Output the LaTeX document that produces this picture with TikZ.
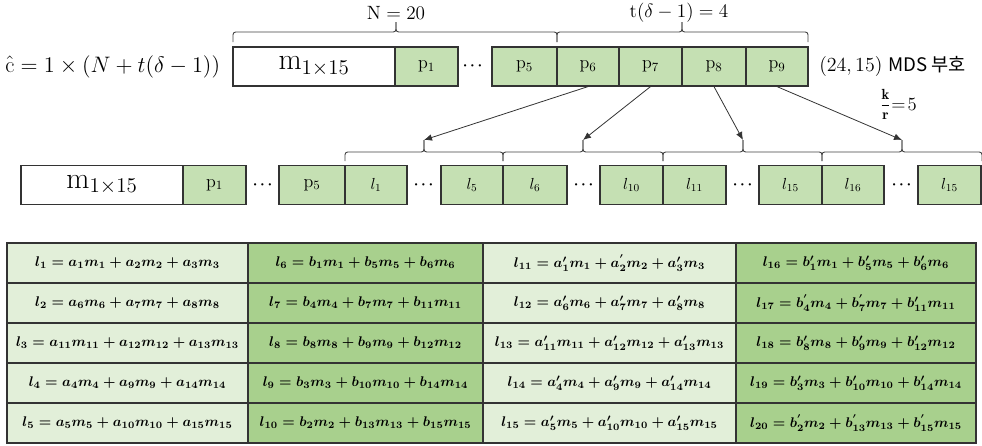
\documentclass[tikz,border=0pt]{standalone}
\usepackage{fix-cm}
\usepackage{amsmath,bm}
\usepackage{fontspec}
\newfontfamily\krfont{Noto Sans CJK KR}
\usetikzlibrary{arrows.meta}

\definecolor{cellLight}{HTML}{E2EFD9}
\definecolor{cellDark}{HTML}{A8D08D}
\definecolor{boxGreen}{HTML}{C5E0B3}
\definecolor{edgeGray}{HTML}{333333}
\definecolor{lineGray}{HTML}{404040}

\tikzset{
  wbox/.style={draw=edgeGray, line width=0.9pt, fill=white, inner sep=0pt,
    minimum height=39*0.75pt, minimum width=#1*0.75pt,
    font=\fontsize{22.5}{25}\selectfont},
  gbox/.style={draw=edgeGray, line width=0.9pt, fill=boxGreen, inner sep=0pt,
    minimum height=39*0.75pt, minimum width=#1*0.75pt,
    font=\fontsize{13.5}{15}\selectfont},
  lbox/.style={gbox=#1, font=\fontsize{12}{14}\selectfont},
  dotsnode/.style={inner sep=0pt, font=\fontsize{11}{12}\selectfont},
  lbl/.style={inner sep=0pt, font=\fontsize{14.4}{17}\selectfont},
  brc/.style={draw=lineGray, line width=0.7pt, rounded corners=2pt},
  arr/.style={draw=black!80, line width=0.6pt, -{Latex[length=6pt,width=5pt]}},
  tcell/.style={draw=edgeGray, line width=1pt, inner sep=0pt,
    minimum height=40*0.75pt, minimum width=#1*0.75pt,
    font=\fontsize{10.5}{12}\selectfont\boldmath},
  lt/.style={tcell=#1, fill=cellLight},
  dk/.style={tcell=#1, fill=cellDark},
}

% T-shaped bracket with rounded joins: name, x1, x2, xtip, yline, yend, ytip
\newcommand\topbracket[7]{%
  \draw[brc] (#2,#6) -- (#2,#5) -- (#4,#5) -- (#4,#7);
  \draw[brc] (#4,#7) -- (#4,#5) -- (#3,#5) -- (#3,#6);
  \coordinate (#1) at (#4,#7);
}

\begin{document}
\begin{tikzpicture}[x=0.75pt,y=-0.75pt]
\useasboundingbox (0,0) rectangle (982,446);

% ---------- codeword row ----------
\node[inner sep=0pt, anchor=west, font=\fontsize{16.8}{19}\selectfont] (cform) at (5,66.5)
  {$\hat{\mathrm{c}} = 1 \times (N + t(\delta - 1))$};

\node[wbox=162] (m) at (314,66.5) {$\mathrm{m}_{1\times 15}$};
\node[gbox=63] (p1) at (426.5,66.5) {$\mathrm{p}_1$};
\node[dotsnode] (d0) at (474,66.5) {$\bm{\cdots}$};
\node[gbox=65] (p5) at (524.5,66.5) {$\mathrm{p}_5$};
\node[gbox=62] (p6) at (588,66.5) {$\mathrm{p}_6$};
\node[gbox=63] (p7) at (650.5,66.5) {$\mathrm{p}_7$};
\node[gbox=64] (p8) at (714,66.5) {$\mathrm{p}_8$};
\node[gbox=62] (p9) at (777,66.5) {$\mathrm{p}_9$};

\node[inner sep=0pt, anchor=west, font=\fontsize{15}{18}\selectfont] (mds) at (819,66.5)
  {$(24, 15)$ {\krfont\fontsize{14}{17}\selectfont MDS 부호}};

% top brackets
\topbracket{tn}{233}{557}{396}{32}{42}{22}
\topbracket{tt}{557}{808}{682}{32}{42}{22}
\node[lbl] (nlab) at (396,13) {$\mathrm{N} = 20$};
\node[lbl] (tlab) at (679,13) {$\mathrm{t}(\delta - 1) = 4$};

\node[inner sep=0pt, font=\fontsize{11}{13}\selectfont] (kfrac) at (885.5,104)
  {$\dfrac{\mathbf{k}}{\mathbf{r}}$};
\node[inner sep=0pt, anchor=west, font=\fontsize{14}{16}\selectfont] (kval) at (891,104)
  {$=\!5$};

% ---------- local parity row ----------
\node[wbox=162] (m2) at (102,185) {$\mathrm{m}_{1\times 15}$};
\node[gbox=63] (q1) at (214.5,185) {$\mathrm{p}_1$};
\node[dotsnode] (d1) at (264,185) {$\bm{\cdots}$};
\node[gbox=66] (q5) at (312,185) {$\mathrm{p}_5$};
\node[lbox=62] (l1) at (376,185) {$l_1$};
\node[dotsnode] (d2) at (425,185) {$\bm{\cdots}$};
\node[lbox=62] (l5) at (472,185) {$l_5$};
\node[lbox=64] (l6) at (535,185) {$l_6$};
\node[dotsnode] (d3) at (585,185) {$\bm{\cdots}$};
\node[lbox=63] (l10) at (631.5,185) {$l_{10}$};
\node[lbox=63] (l11) at (694.5,185) {$l_{11}$};
\node[dotsnode] (d4) at (744,185) {$\bm{\cdots}$};
\node[lbox=63] (l15) at (790.5,185) {$l_{15}$};
\node[lbox=62] (l16) at (853,185) {$l_{16}$};
\node[dotsnode] (d5) at (903,185) {$\bm{\cdots}$};
\node[lbox=63] (l15b) at (949.5,185) {$l_{15}$};

% group brackets
\topbracket{ga}{345}{503}{424}{152}{161}{140}
\topbracket{gb}{503}{663}{583}{152}{161}{140}
\topbracket{gc}{663}{822}{743}{152}{161}{140}
\topbracket{gd}{822}{982}{902}{152}{161}{140}

% arrows
\draw[arr] (p6.south) -- (ga);
\draw[arr] (p7.south) -- (gb);
\draw[arr] (p8.south) -- (gc);
\draw[arr] (p9.south) -- (gd);

% ---------- equation table ----------
\node[lt=241] (a1) at (127.5,263) {$l_1 = a_1m_1 + a_2m_2 + a_3m_3$};
\node[lt=241] (a2) at (127.5,303) {$l_2 = a_6m_6 + a_7m_7 + a_8m_8$};
\node[lt=241] (a3) at (127.5,343) {$l_3 = a_{11}m_{11} + a_{12}m_{12} + a_{13}m_{13}$};
\node[lt=241] (a4) at (127.5,383) {$l_4 = a_4m_4 + a_9m_9 + a_{14}m_{14}$};
\node[lt=241] (a5) at (127.5,423) {$l_5 = a_5m_5 + a_{10}m_{10} + a_{15}m_{15}$};

\node[dk=235] (b1) at (365.5,263) {$l_6 = b_1m_1 + b_5m_5 + b_6m_6$};
\node[dk=235] (b2) at (365.5,303) {$l_7 = b_4m_4 + b_7m_7 + b_{11}m_{11}$};
\node[dk=235] (b3) at (365.5,343) {$l_8 = b_8m_8 + b_9m_9 + b_{12}m_{12}$};
\node[dk=235] (b4) at (365.5,383) {$l_9 = b_3m_3 + b_{10}m_{10} + b_{14}m_{14}$};
\node[dk=235] (b5) at (365.5,423) {$l_{10} = b_2m_2 + b_{13}m_{13} + b_{15}m_{15}$};

\node[lt=253] (c1) at (609.5,263) {$l_{11} = a'_1m_1 + a^{'}_2m_2 + a'_3m_3$};
\node[lt=253] (c2) at (609.5,303) {$l_{12} = a'_6m_6 + a'_7m_7 + a'_8m_8$};
\node[lt=253] (c3) at (609.5,343) {$l_{13} = a'_{11}m_{11} + a'_{12}m_{12} + a'_{13}m_{13}$};
\node[lt=253] (c4) at (609.5,383) {$l_{14} = a'_4m_4 + a'_9m_9 + a'_{14}m_{14}$};
\node[lt=253] (c5) at (609.5,423) {$l_{15} = a'_5m_5 + a'_{10}m_{10} + a'_{15}m_{15}$};

\node[dk=240] (e1) at (856,263) {$l_{16} = b'_1m_1 + b'_5m_5 + b'_6m_6$};
\node[dk=240] (e2) at (856,303) {$l_{17} = b^{'}_4m_4 + b^{'}_7m_7 + b'_{11}m_{11}$};
\node[dk=240] (e3) at (856,343) {$l_{18} = b'_8m_8 + b'_9m_9 + b'_{12}m_{12}$};
\node[dk=240] (e4) at (856,383) {$l_{19} = b'_3m_3 + b'_{10}m_{10} + b'_{14}m_{14}$};
\node[dk=240] (e5) at (856,423) {$l_{20} = b^{'}_2m_2 + b^{'}_{13}m_{13} + b^{'}_{15}m_{15}$};

\end{tikzpicture}
\end{document}
